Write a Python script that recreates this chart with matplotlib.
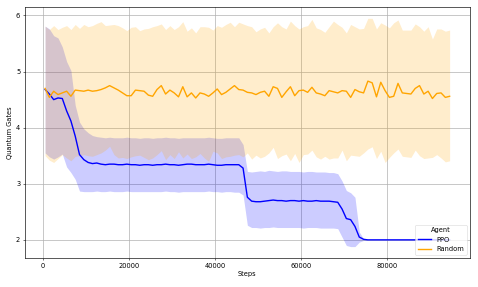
import matplotlib
matplotlib.use("Agg")
import matplotlib.pyplot as plt
import numpy as np

steps = list(range(500, 95000, 1000))

random_mean = [4.70, 4.54, 4.65, 4.59, 4.62, 4.65, 4.56, 4.67, 4.66, 4.65,
               4.67, 4.65, 4.66, 4.68, 4.71, 4.75, 4.71, 4.67, 4.62, 4.57,
               4.57, 4.67, 4.66, 4.65, 4.58, 4.56, 4.68, 4.75, 4.60, 4.67,
               4.62, 4.55, 4.73, 4.55, 4.62, 4.53, 4.62, 4.60, 4.56, 4.62,
               4.69, 4.59, 4.63, 4.69, 4.75, 4.68, 4.67, 4.63, 4.62, 4.59,
               4.63, 4.65, 4.56, 4.73, 4.70, 4.54, 4.64, 4.73, 4.57, 4.66,
               4.67, 4.63, 4.72, 4.62, 4.60, 4.57, 4.66, 4.64, 4.62, 4.66,
               4.65, 4.54, 4.68, 4.64, 4.62, 4.83, 4.80, 4.55, 4.81, 4.66,
               4.54, 4.56, 4.79, 4.62, 4.61, 4.60, 4.70, 4.75, 4.60, 4.65,
               4.52, 4.61, 4.62, 4.54, 4.56]

random_upper = [5.81, 5.75, 5.82, 5.75, 5.79, 5.82, 5.75, 5.84, 5.77, 5.84,
                5.80, 5.82, 5.86, 5.89, 5.82, 5.83, 5.84, 5.82, 5.78, 5.73,
                5.79, 5.80, 5.73, 5.76, 5.77, 5.80, 5.82, 5.85, 5.75, 5.82,
                5.75, 5.80, 5.89, 5.72, 5.78, 5.69, 5.80, 5.80, 5.79, 5.74,
                5.82, 5.79, 5.84, 5.88, 5.80, 5.88, 5.85, 5.82, 5.80, 5.71,
                5.76, 5.79, 5.69, 5.80, 5.87, 5.80, 5.76, 5.90, 5.82, 5.76,
                5.80, 5.82, 5.93, 5.78, 5.75, 5.70, 5.80, 5.90, 5.84, 5.79,
                5.69, 5.84, 5.80, 5.76, 5.77, 5.95, 5.95, 5.76, 5.87, 5.83,
                5.78, 5.87, 5.92, 5.74, 5.74, 5.74, 5.85, 5.80, 5.72, 5.80,
                5.58, 5.76, 5.76, 5.72, 5.74]

random_lower = [3.50, 3.42, 3.38, 3.45, 3.52, 3.46, 3.41, 3.49, 3.50, 3.52,
                3.50, 3.49, 3.52, 3.55, 3.60, 3.67, 3.52, 3.46, 3.47, 3.45,
                3.48, 3.50, 3.51, 3.47, 3.43, 3.46, 3.52, 3.59, 3.43, 3.52,
                3.45, 3.57, 3.46, 3.53, 3.45, 3.48, 3.54, 3.46, 3.40, 3.58,
                3.55, 3.45, 3.48, 3.49, 3.51, 3.52, 3.48, 3.55, 3.44, 3.51,
                3.46, 3.49, 3.55, 3.65, 3.45, 3.50, 3.53, 3.41, 3.54, 3.38,
                3.52, 3.53, 3.60, 3.48, 3.44, 3.49, 3.44, 3.46, 3.46, 3.60,
                3.41, 3.51, 3.50, 3.49, 3.55, 3.62, 3.66, 3.45, 3.58, 3.38,
                3.47, 3.55, 3.62, 3.49, 3.48, 3.47, 3.60, 3.50, 3.45, 3.46,
                3.47, 3.52, 3.46, 3.39, 3.41]

ppo_mean = [4.68, 4.60, 4.50, 4.53, 4.52, 4.30, 4.12, 3.85, 3.52, 3.43,
            3.38, 3.36, 3.37, 3.35, 3.34, 3.35, 3.35, 3.34, 3.34, 3.35,
            3.34, 3.34, 3.33, 3.34, 3.34, 3.33, 3.34, 3.34, 3.35, 3.34,
            3.34, 3.33, 3.34, 3.35, 3.35, 3.34, 3.34, 3.34, 3.35, 3.34,
            3.33, 3.33, 3.34, 3.34, 3.34, 3.34, 3.28, 2.76, 2.69, 2.68,
            2.68, 2.69, 2.70, 2.71, 2.70, 2.70, 2.69, 2.70, 2.70, 2.69,
            2.70, 2.69, 2.69, 2.70, 2.69, 2.69, 2.69, 2.68, 2.67, 2.55,
            2.38, 2.36, 2.24, 2.05, 2.01, 2.00, 2.00, 2.00, 2.00, 2.00,
            2.00, 2.00, 2.00, 2.00, 2.00, 2.00, 2.00, 2.00, 2.00, 2.00,
            2.00, 2.00, 2.00, 2.00, 2.00]

ppo_upper = [5.81, 5.76, 5.64, 5.60, 5.44, 5.18, 5.02, 4.40, 4.10, 3.98,
             3.91, 3.86, 3.84, 3.83, 3.82, 3.83, 3.82, 3.82, 3.82, 3.83,
             3.82, 3.82, 3.81, 3.82, 3.82, 3.81, 3.82, 3.82, 3.83, 3.82,
             3.82, 3.81, 3.82, 3.82, 3.82, 3.82, 3.82, 3.82, 3.83, 3.82,
             3.81, 3.81, 3.82, 3.82, 3.82, 3.82, 3.70, 3.22, 3.21, 3.22,
             3.23, 3.22, 3.24, 3.23, 3.22, 3.23, 3.23, 3.22, 3.22, 3.22,
             3.21, 3.22, 3.22, 3.21, 3.21, 3.21, 3.20, 3.20, 3.18, 3.05,
             2.88, 2.84, 2.76, 2.14, 2.02, 2.00, 2.00, 2.00, 2.00, 2.00,
             2.00, 2.00, 2.00, 2.00, 2.00, 2.00, 2.00, 2.00, 2.00, 2.00,
             2.00, 2.00, 2.00, 2.00, 2.00]

ppo_lower = [3.55, 3.48, 3.44, 3.48, 3.53, 3.30, 3.20, 3.08, 2.87, 2.86,
             2.86, 2.86, 2.87, 2.86, 2.86, 2.87, 2.86, 2.86, 2.86, 2.87,
             2.86, 2.86, 2.86, 2.86, 2.86, 2.86, 2.86, 2.86, 2.87, 2.86,
             2.86, 2.85, 2.86, 2.86, 2.86, 2.86, 2.86, 2.86, 2.87, 2.86,
             2.86, 2.85, 2.86, 2.86, 2.85, 2.85, 2.80, 2.26, 2.22, 2.22,
             2.21, 2.22, 2.22, 2.23, 2.22, 2.22, 2.22, 2.22, 2.22, 2.22,
             2.21, 2.22, 2.22, 2.22, 2.21, 2.21, 2.21, 2.21, 2.20, 2.05,
             1.90, 1.88, 1.88, 1.96, 1.99, 2.00, 2.00, 2.00, 2.00, 2.00,
             2.00, 2.00, 2.00, 2.00, 2.00, 2.00, 2.00, 2.00, 2.00, 2.00,
             2.00, 2.00, 2.00, 2.00, 2.00]

agents = ["PPO", "Random"]
colors = {"PPO": "blue", "Random": "orange"}

s = 0.478
plt.rcParams["font.family"] = ["DejaVu Sans"]
plt.rcParams["font.size"] = 10 * s

fig = plt.figure(figsize=(4.78, 2.87), dpi=100)
ax = fig.add_axes([0.052, 0.101, 0.931, 0.875])

series = {
    "PPO": (ppo_mean, ppo_lower, ppo_upper),
    "Random": (random_mean, random_lower, random_upper),
}
for name in agents:
    m, lo, hi = series[name]
    ax.plot(steps, m, color=colors[name], lw=1.0, label=name, zorder=2)
    ax.fill_between(steps, lo, hi, color=colors[name], alpha=0.2, lw=0, zorder=1)

ax.grid(True, color="#b0b0b0", lw=0.8 * s * 1.3)
ax.set_axisbelow(True)
ax.set_yticks([2, 3, 4, 5, 6])
ax.set_xticks([0, 20000, 40000, 60000, 80000])
ax.tick_params(length=3.5 * s, width=0.8 * s, pad=3.5 * s, labelsize=10 * s)
for sp in ax.spines.values():
    sp.set_linewidth(0.8 * s * 1.2)
ax.set_xlabel("Steps", fontsize=10 * s, labelpad=4 * s)
ax.set_ylabel("Quantum Gates", fontsize=10 * s, labelpad=4 * s)
ax.margins(x=0.05, y=0.05)

leg = ax.legend(title="Agent", loc="lower right", fontsize=10 * s,
                title_fontsize=10 * s, frameon=True, borderpad=0.4,
                handlelength=2.0, labelspacing=0.5)
leg.get_frame().set_linewidth(0.8 * s)

fig.savefig("out.png", dpi=100)
